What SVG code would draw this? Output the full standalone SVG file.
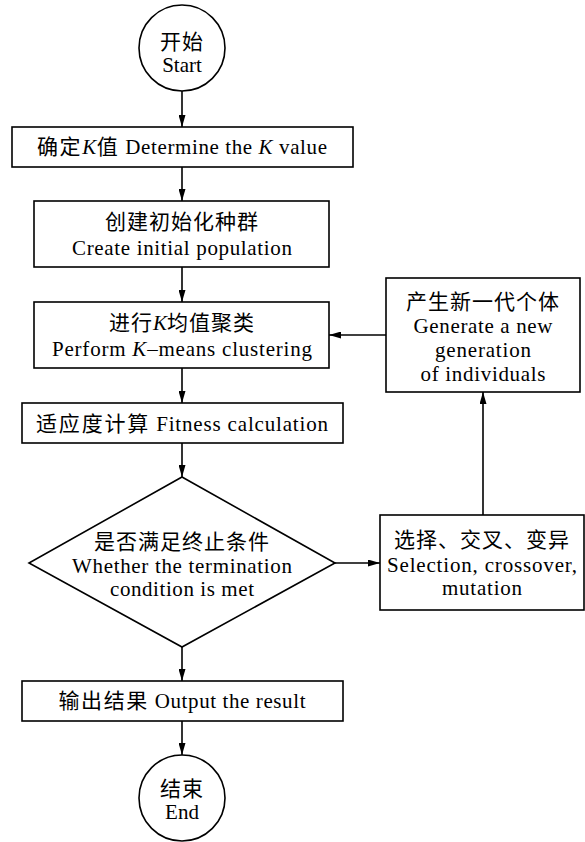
<svg xmlns="http://www.w3.org/2000/svg" width="585" height="842" viewBox="0 0 585 842">
<defs>
<style>
.sh{fill:#fff;stroke:#000;stroke-width:1.6}
.t{font-family:"Liberation Serif","Times New Roman","Noto Sans CJK SC",serif;font-size:21px;fill:#000;text-anchor:middle}
.c{font-family:"Noto Sans CJK SC",sans-serif;font-size:21px;letter-spacing:1px}
.i{font-style:italic}
.ln{fill:none;stroke:#000;stroke-width:1.6}
</style>
<marker id="ah" markerUnits="userSpaceOnUse" markerWidth="12" markerHeight="7" refX="12" refY="3.5" orient="auto">
<path d="M0,0 L12,3.5 L0,7 z" fill="#000"/>
</marker>
</defs>
<rect width="585" height="842" fill="#fff"/>
<g id="connectors">
<line class="ln" x1="182" y1="91" x2="182" y2="127" marker-end="url(#ah)"/>
<line class="ln" x1="182" y1="167" x2="182" y2="201" marker-end="url(#ah)"/>
<line class="ln" x1="182" y1="267" x2="182" y2="302" marker-end="url(#ah)"/>
<line class="ln" x1="182" y1="368" x2="182" y2="403" marker-end="url(#ah)"/>
<line class="ln" x1="182" y1="443" x2="182" y2="477" marker-end="url(#ah)"/>
<line class="ln" x1="182" y1="647" x2="182" y2="681" marker-end="url(#ah)"/>
<line class="ln" x1="182" y1="721" x2="182" y2="755" marker-end="url(#ah)"/>
<line class="ln" x1="335" y1="563" x2="380" y2="563" marker-end="url(#ah)"/>
<line class="ln" x1="483" y1="515" x2="483" y2="392" marker-end="url(#ah)"/>
<line class="ln" x1="386" y1="335" x2="329" y2="335" marker-end="url(#ah)"/>
</g>
<g id="start">
<circle class="sh" cx="182" cy="48" r="43"/>
<text class="t" x="182" y="49"><tspan class="c">开始</tspan></text>
<text class="t" x="182" y="72">Start</text>
</g>
<g id="determine-k">
<rect class="sh" x="12" y="127" width="341" height="40"/>
<text class="t" x="182" y="154" textLength="290"><tspan class="c">确定</tspan><tspan class="i">K</tspan><tspan class="c">值</tspan> Determine the <tspan class="i">K</tspan> value</text>
</g>
<g id="create-population">
<rect class="sh" x="34" y="201" width="295" height="66"/>
<text class="t" x="182" y="229"><tspan class="c">创建初始化种群</tspan></text>
<text class="t" x="182" y="255" textLength="220">Create initial population</text>
</g>
<g id="kmeans">
<rect class="sh" x="34" y="302" width="295" height="66"/>
<text class="t" x="182" y="330"><tspan class="c">进行</tspan><tspan class="i">K</tspan><tspan class="c">均值聚类</tspan></text>
<text class="t" x="182" y="356" textLength="260">Perform <tspan class="i">K</tspan>–means clustering</text>
</g>
<g id="fitness">
<rect class="sh" x="22" y="403" width="321" height="40"/>
<text class="t" x="182" y="431" textLength="292"><tspan class="c">适应度计算</tspan> Fitness calculation</text>
</g>
<g id="decision">
<polygon class="sh" points="182,477 335,563 182,647 29,563"/>
<text class="t" x="182" y="549"><tspan class="c">是否满足终止条件</tspan></text>
<text class="t" x="182" y="573" textLength="220">Whether the termination</text>
<text class="t" x="182" y="596" textLength="144">condition is met</text>
</g>
<g id="selection">
<rect class="sh" x="380" y="515" width="204" height="95"/>
<text class="t" x="482" y="547"><tspan class="c">选择、交叉、变异</tspan></text>
<text class="t" x="482" y="572" textLength="190">Selection, crossover,</text>
<text class="t" x="482" y="595" textLength="80">mutation</text>
</g>
<g id="new-generation">
<rect class="sh" x="386" y="278" width="194" height="114"/>
<text class="t" x="483" y="309"><tspan class="c">产生新一代个体</tspan></text>
<text class="t" x="483" y="333" textLength="139">Generate a new</text>
<text class="t" x="483" y="357" textLength="96">generation</text>
<text class="t" x="483" y="381" textLength="125">of individuals</text>
</g>
<g id="output">
<rect class="sh" x="22" y="681" width="321" height="40"/>
<text class="t" x="182" y="708" textLength="247"><tspan class="c">输出结果</tspan> Output the result</text>
</g>
<g id="end">
<circle class="sh" cx="182" cy="798" r="43"/>
<text class="t" x="182" y="796"><tspan class="c">结束</tspan></text>
<text class="t" x="182" y="819">End</text>
</g>
</svg>
